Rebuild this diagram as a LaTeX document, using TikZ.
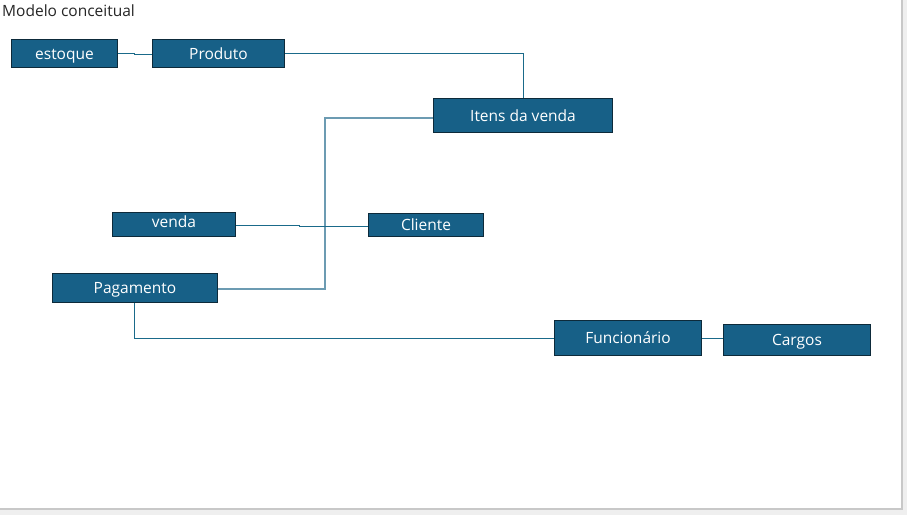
\documentclass[tikz,border=0pt]{standalone}
\usepackage{fontspec}
\setmainfont{Open Sans}
\definecolor{boxfill}{HTML}{176087}
\definecolor{boxedge}{HTML}{0D2A3A}
\definecolor{linkc}{HTML}{1A6A8A}
\definecolor{linklight}{HTML}{6C9BB2}
\definecolor{outer}{HTML}{EFEFEF}
\definecolor{frame}{HTML}{C8C8C8}
\begin{document}
\begin{tikzpicture}[x=1pt,y=-1pt,
  ent/.style={draw=boxedge, fill=boxfill, line width=1pt, text=white, font=\fontsize{15.5}{17}\selectfont, inner sep=0pt, anchor=north west, text height=11pt, text depth=0pt},
  link/.style={draw=linkc, line width=1pt},
  linklt/.style={draw=linklight, line width=1.4pt}]
\useasboundingbox (0,0) rectangle (907,515);
\fill[outer] (0,0) rectangle (907,515);
\fill[white] (0,0) rectangle (902,509);
\draw[frame, line width=1.2pt] (902,0) -- (902,509) -- (0,509);
\node[anchor=north west, inner sep=0pt, font=\fontsize{15.5}{17}\selectfont, text=black!85] (title) at (2,5) {Modelo conceitual};
\node[ent, minimum width=106pt, minimum height=28pt] (estoque) at (11,39) {estoque};
\node[ent, minimum width=132pt, minimum height=28pt] (produto) at (152,39) {Produto};
\node[ent, minimum width=179pt, minimum height=34pt] (itens) at (433,98) {Itens da venda};
\node[ent, minimum width=123pt, minimum height=24pt, text depth=6pt] (venda) at (112,212) {venda};
\node[ent, minimum width=115pt, minimum height=23pt] (cliente) at (368,213) {Cliente};
\node[ent, minimum width=165pt, minimum height=29pt] (pagamento) at (52,273) {Pagamento};
\node[ent, minimum width=147pt, minimum height=35pt, text depth=1pt] (func) at (554,320) {Funcionário};
\node[ent, minimum width=147pt, minimum height=31pt] (cargos) at (723,324) {Cargos};
\coordinate (ep1) at (134,53);
\coordinate (ep2) at (134,54);
\draw[link] (estoque.east |- 0,53) -- (ep1) -- (ep2) -- (produto.west |- 0,54);
\draw[link] (produto.east) -| (itens.north);
\draw[linklt] (itens.west |- 0,118) -- (325,118) |- (pagamento.east |- 0,289);
\coordinate (vc1) at (299,225);
\coordinate (vc2) at (299,226);
\draw[link] (venda.east |- 0,225) -- (vc1) -- (vc2) -- (cliente.west |- 0,226);
\draw[link] (pagamento.south -| 134,0) |- (func.west |- 0,338);
\draw[link] (func.east |- 0,338) -- (cargos.west |- 0,338);
\end{tikzpicture}
\end{document}
